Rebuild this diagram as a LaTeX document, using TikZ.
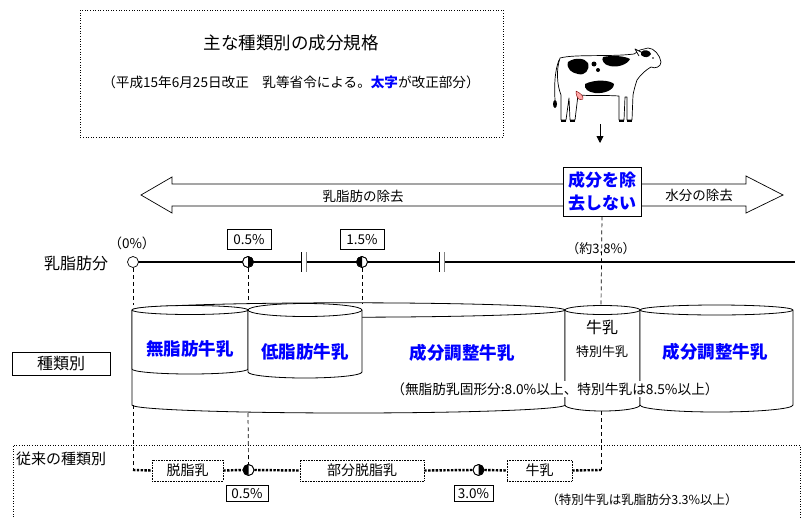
\documentclass[tikz,border=0pt]{standalone}
\usepackage{fontspec}
\setmainfont{Noto Sans CJK JP}
\usetikzlibrary{arrows.meta}

\newcommand\setfs[1]{\fontsize{#1}{#1}\selectfont}
% cylinder: xl xr ytop ybot rx ry(top) ry(bottom)
\newcommand\drawcyl[7]{%
  \filldraw[cylline, fill=white] (#1,#3) -- (#1,#4)
    arc[start angle=180, end angle=360, x radius=#5pt, y radius=#7pt]
    -- (#2,#3)
    arc[start angle=0, end angle=180, x radius=#5pt, y radius=#6pt] -- cycle;
  \draw[cylline] (#1,#3) arc[start angle=180, end angle=360, x radius=#5pt, y radius=#6pt];
}

\tikzset{
  cylline/.style={line width=0.8pt},
  dotframe/.style={draw, dotted, line width=0.6pt},
  pctbox/.style={draw, line width=0.7pt, fill=white, inner sep=0pt,
    minimum width=44pt, minimum height=20pt, font=\setfs{13.5}},
  guide/.style={line width=0.7pt, dash pattern=on 4pt off 3pt},
  chain/.style={line width=2.4pt, dash pattern=on 2.4pt off 1.4pt},
  bluebold/.style={text=blue, font=\setfs{17.5}\bfseries},
  plain/.style={font=\setfs{13.5}, inner sep=1pt},
  marker/.style={circle, draw, line width=0.7pt, fill=white, minimum size=11pt, inner sep=0pt},
  oldbox/.style={draw, densely dotted, line width=0.6pt, fill=white, minimum height=21pt,
    inner sep=0pt, font=\setfs{14}},
}

\begin{document}
\begin{tikzpicture}[x=1pt, y=-1pt]
\useasboundingbox (0,0) rectangle (803,517);

% ---------- heading ----------
\draw[dotframe] (80,10) rectangle (503,137);
\node[font=\setfs{17.5}] (title) at (291,43) {主な種類別の成分規格};
\node[font=\setfs{13.6}] (sub) at (291,82)
  {（平成15年6月25日改正\hspace{1em}乳等省令による。{\bfseries\color{blue}太字}が改正部分）};

% ---------- cow ----------
\begin{scope}[line width=0.7pt, line join=round]
\filldraw[fill=white]
  (560,58) .. controls (575,54) and (610,57) .. (634,54)
  .. controls (637,52) .. (640,50)
  -- (648,48)
  .. controls (654,48) and (660,55) .. (661,62)
  .. controls (661,67) and (655,69) .. (651,67)
  .. controls (646,70) and (641,74) .. (637,80)
  .. controls (635,86) and (634,90) .. (633,95)
  -- (632,120) -- (627,120) -- (627,97)
  -- (625,97) -- (624,120) -- (619,120) -- (619,96)
  .. controls (605,95) and (590,96) .. (578,95)
  -- (575,120) -- (570,120) -- (569,98)
  -- (566,120) -- (561,120) -- (561,95)
  .. controls (557,85) and (556,70) .. (560,58) -- cycle;
\draw (559,60) .. controls (555,70) and (554,85) .. (555,100);
\fill (555,104) ellipse[x radius=2pt, y radius=4pt];
\fill (568,62) .. controls (575,57) and (585,58) .. (588,63)
  .. controls (590,70) and (585,76) .. (578,74)
  .. controls (572,73) and (566,69) .. (568,62) -- cycle;
\fill (603,57) .. controls (612,55) and (625,56) .. (630,59)
  .. controls (628,64) and (618,68) .. (610,66)
  .. controls (604,65) and (601,60) .. (603,57) -- cycle;
\fill (594,64) circle (2.5pt);
\fill (598,70) circle (2pt);
\fill (585,84) .. controls (595,79) and (610,80) .. (614,84)
  .. controls (614,90) and (604,94) .. (595,93)
  .. controls (588,92) and (584,89) .. (585,84) -- cycle;
\fill (641,52) .. controls (644,49) and (650,50) .. (651,54)
  .. controls (649,58) and (644,58) .. (641,55) -- cycle;
\filldraw[fill=white] (641,52) -- (635,49) -- (639,56);
\fill (653,58) circle (0.9pt);
\filldraw[fill=red!35!white, draw=red!50!black, line width=0.4pt]
  (576,91) .. controls (580,93) and (584,96) .. (583,99)
  .. controls (580,101) and (576,99) .. (576,91) -- cycle;
\fill (561,120) rectangle (566,122);
\fill (570,120) rectangle (575,122);
\fill (619,120) rectangle (624,122);
\fill (627,120) rectangle (632,122);
\end{scope}
\coordinate (cowfoot) at (600,124);
\coordinate (cowarrow) at (600,143);
\draw[line width=0.8pt, -{Triangle[length=7pt, width=7pt]}] (cowfoot) -- (cowarrow);

% ---------- removal arrow ----------
\draw[line width=0.7pt, fill=white]
  (141,195) -- (172,177) -- (172,184) -- (746,184) -- (746,176) -- (783,195)
  -- (746,213) -- (746,206) -- (172,206) -- (172,213) -- cycle;
\node[plain] (fatout) at (363,196) {乳脂肪の除去};
\node[plain] (waterout) at (699,195) {水分の除去};
\node[draw, line width=0.8pt, fill=white, minimum width=78pt, minimum height=49pt,
  align=center, inner sep=0pt, text=blue, font=\fontsize{17}{23}\selectfont\bfseries] (keep) at (602,191.5)
  {成分を除\\去しない};

% ---------- fat scale ----------
\node[font=\setfs{16}] (fatlabel) at (76,263) {乳脂肪分};
\coordinate (scaleL) at (133,262);
\coordinate (scaleR) at (795,262);
\draw[line width=2.6pt] (scaleL) -- (scaleR);
% breaks in the scale
\foreach \bx in {303,441}{
  \fill[white] (\bx-2,251) rectangle (\bx+3,273);
  \draw[line width=0.8pt] (\bx-2,252) -- (\bx-2,272);
  \draw[line width=0.4pt, gray] (\bx+3,252) -- (\bx+3,272);
}
\node[marker] (m0) at (133,262) {};
\node[marker] (m05) at (248,262) {};
\fill (m05.north) arc[start angle=90, end angle=-90, radius=5.5pt] -- cycle;
\node[marker] (m15) at (362,262) {};
\fill (m15.north) arc[start angle=90, end angle=270, radius=5.5pt] -- cycle;
\draw[line width=0.7pt] (m05) circle (5.5pt);
\draw[line width=0.7pt] (m15) circle (5.5pt);

\node[font=\setfs{13.5}] (p0) at (132,243) {（0\%）};
\node[pctbox] (p05) at (249,239.5) {0.5\%};
\node[pctbox] (p15) at (362,239.5) {1.5\%};
\node[font=\setfs{13}] (p38) at (601,249) {（約3.8\%）};

% ---------- cylinders ----------
\drawcyl{132}{565}{310}{405}{216.5}{7.2}{8}
\drawcyl{132}{248}{310}{369}{58}{4.5}{5}
\drawcyl{248}{362}{310}{372}{57}{6.5}{6}
\drawcyl{565}{640}{310}{405}{37.5}{4.5}{6}
\drawcyl{640}{793}{310}{405}{76.5}{5}{7}

\node[bluebold] (skim) at (190,349) {無脂肪牛乳};
\node[bluebold] (lowfat) at (305,352) {低脂肪牛乳};
\node[bluebold] (adjL) at (462,353) {成分調整牛乳};
\node[font=\setfs{16}] (milk) at (602,327) {牛乳};
\node[font=\setfs{13}] (special) at (602,352) {特別牛乳};
\node[bluebold] (adjR) at (715,352) {成分調整牛乳};
\node[fill=white, inner sep=1pt, font=\setfs{13.7}] (solids) at (555,389)
  {（無脂肪乳固形分:8.0\%以上、特別牛乳は8.5\%以上）};

\node[draw, line width=0.7pt, minimum width=98pt, minimum height=23pt, inner sep=0pt,
  font=\setfs{16}] (kind) at (61,363.5) {種類別};

% guide lines from the scale to the cylinders
\coordinate (topA) at (133,305);
\coordinate (topB) at (248,303);
\coordinate (topC) at (362,303);
\coordinate (topD) at (601,305);
\draw[guide] (m0.south) -- (topA);
\draw[guide] (m05.south) -- (topB);
\draw[guide] (m15.south) -- (topC);
\draw[guide] (keep.south) -- (topD);

% ---------- former classification ----------
\draw[dotframe] (13,517) -- (13,445) -- (800,445) -- (800,517);
\node[font=\setfs{15}, anchor=west, inner sep=0pt] (former) at (16,459) {従来の種類別};

\coordinate (botA) at (133,405);
\coordinate (botB) at (248,413);
\coordinate (botD) at (601,411);
\coordinate (rowA) at (133,470);
\coordinate (rowD) at (601,470);

\node[oldbox, minimum width=71pt] (oskim) at (187.5,470.5) {脱脂乳};
\node[marker] (n05) at (248.5,470) {};
\fill (n05.north) arc[start angle=90, end angle=270, radius=5.5pt] -- cycle;
\draw[line width=0.7pt] (n05) circle (5.5pt);
\node[oldbox, minimum width=124pt] (opart) at (362,470.5) {部分脱脂乳};
\node[marker] (n30) at (478.5,470) {};
\fill (n30.north) arc[start angle=90, end angle=-90, radius=5.5pt] -- cycle;
\draw[line width=0.7pt] (n30) circle (5.5pt);
\node[oldbox, minimum width=65pt] (omilk) at (539.5,470.5) {牛乳};

\draw[guide] (botA) -- (rowA);
\draw[guide] (botB) -- (n05.north);
\draw[guide] (botD) -- (rowD);
\draw[chain] (rowA) -- (oskim.west);
\draw[chain] (oskim.east) -- (n05.west);
\draw[chain] (n05.east) -- (opart.west);
\draw[chain] (opart.east) -- (n30.west);
\draw[chain] (n30.east) -- (omilk.west);
\draw[chain] (omilk.east) -- (rowD);

\node[pctbox, minimum width=42pt, minimum height=16pt] (q05) at (247,493.5) {0.5\%};
\node[pctbox, minimum width=39pt, minimum height=16pt] (q30) at (473.5,493.5) {3.0\%};
\node[font=\setfs{12.5}] (note) at (642,500) {（特別牛乳は乳脂肪分3.3\%以上）};
\end{tikzpicture}
\end{document}
